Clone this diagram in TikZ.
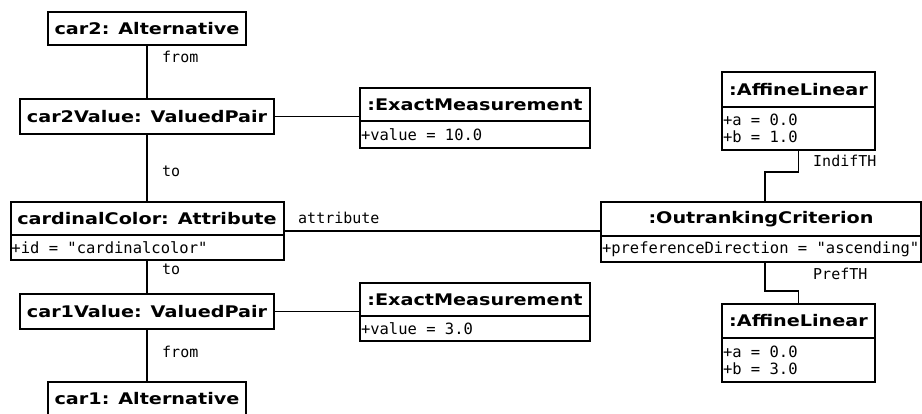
\documentclass[tikz,border=0pt]{standalone}
\usepackage{fontspec}
\setmainfont{DejaVu Sans}
\newfontfamily\umltitle{DejaVu Sans Bold}[FakeStretch=1.2]
\newfontfamily\umlmono{DejaVu Sans Mono}[WordSpace={1,0,0}]
\usetikzlibrary{positioning}

\begin{document}
\begin{tikzpicture}[x=1pt,y=-1pt]

  % Set up styles for the object boxes
  \tikzset{
      objtitle/.style={draw, line width=2pt, inner sep=0pt, outer sep=0pt, minimum height=33pt,
        font=\fontsize{16}{19}\umltitle},
      objattr/.style={draw, line width=2pt, inner xsep=1pt, inner ysep=1pt, outer sep=0pt,
        anchor=north, align=left, font=\fontsize{15.5}{17}\umlmono,
        execute at begin node={\spaceskip=0pt\xspaceskip=0pt\relax}},
      assoc/.style={line width=1.8pt},
      rolelabel/.style={anchor=west, inner sep=0pt, font=\fontsize{15}{17}\umlmono}
  }
  \useasboundingbox (0,0) rectangle (922,414);

  % left column
  \node[objtitle, minimum width=198pt] (car2) at (147,29) {car2: Alternative};
  \node[objtitle, minimum width=254pt, minimum height=35pt] (car2val) at (147,116.5) {car2Value: ValuedPair};
  \node[objtitle, minimum width=273pt] (cc) at (147,218.5) {cardinalColor: Attribute};
  \node[objattr, text width=271pt, minimum height=25pt] (ccattr) at (cc.south) {+id = "cardinalcolor"};
  \node[objtitle, minimum width=254pt, minimum height=35pt] (car1val) at (147,311.5) {car1Value: ValuedPair};
  \node[objtitle, minimum width=198pt] (car1) at (147,398.5) {car1: Alternative};

  % measurements
  \node[objtitle, minimum width=230pt] (em2) at (475,104.5) {:ExactMeasurement};
  \node[objattr, text width=228pt, minimum height=27pt] (em2attr) at (em2.south) {+value = 10.0};
  \node[objtitle, minimum width=230pt] (em1) at (475,299.5) {:ExactMeasurement};
  \node[objattr, text width=228pt, minimum height=25pt] (em1attr) at (em1.south) {+value = 3.0};

  % criterion and thresholds
  \node[objtitle, minimum width=320pt, minimum height=34pt] (crit) at (761,219) {:OutrankingCriterion};
  \node[objattr, text width=318pt, minimum height=26pt] (critattr) at (crit.south) {+preferenceDirection = "ascending"};
  \node[objtitle, minimum width=153pt, minimum height=35pt] (indif) at (798.5,89.5) {:AffineLinear};
  \node[objattr, text width=151pt, minimum height=43pt] (indifattr) at (indif.south) {+a = 0.0\\+b = 1.0};
  \node[objtitle, minimum width=153pt, minimum height=34pt] (pref) at (798.5,321) {:AffineLinear};
  \node[objattr, text width=151pt, minimum height=44pt] (prefattr) at (pref.south) {+a = 0.0\\+b = 3.0};

  % links
  \draw[assoc] (car2) -- (car2val);
  \draw[assoc] (car2val) -- (cc);
  \draw[assoc] (ccattr) -- (car1val);
  \draw[assoc] (car1val) -- (car1);
  \draw[assoc] (car2val.east) -- (car2val.east -| em2.west);
  \draw[assoc] (car1val.east) -- (car1val.east -| em1.west);
  \draw[assoc] ([yshift=4pt]cc.south east) -- ([yshift=4pt]cc.south east -| crit.west);
  \draw[assoc] (indifattr.south) -- ++(0,22) -| ([xshift=4pt]crit.north);
  \draw[assoc] ([xshift=4pt]critattr.south) -- ++(0,29) -| (pref.north);

  % role names
  \node[rolelabel] (lfrom2) at (162,57) {from};
  \node[rolelabel] (lto2) at (162,171) {to};
  \node[rolelabel] (lto1) at (162,269) {to};
  \node[rolelabel] (lfrom1) at (162,352) {from};
  \node[rolelabel] (lattr) at (298,218) {attribute};
  \node[rolelabel] (lindif) at (813,161) {IndifTH};
  \node[rolelabel] (lpref) at (813,274) {PrefTH};

\end{tikzpicture}
\end{document}
